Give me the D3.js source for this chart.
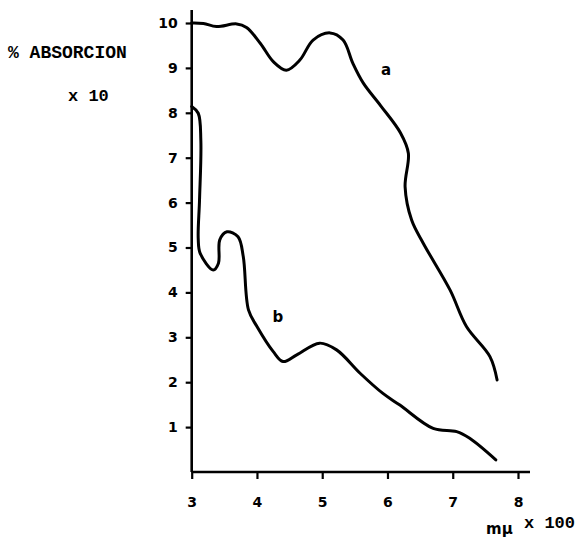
<!DOCTYPE html>
<html><head><meta charset="utf-8">
<script src="https://cdn.jsdelivr.net/npm/d3@7"></script>
<style>body{margin:0;background:#fff}</style>
</head><body>
<svg id="c" width="588" height="542"></svg>
<script>
const xTicks = [3,4,5,6,7,8];
const yTicks = [1,2,3,4,5,6,7,8,9,10];
const curveA = [[3.0,10.0],[3.18,9.99],[3.38,9.92],[3.69,9.98],[3.84,9.9],[4.05,9.55],[4.25,9.14],[4.45,8.95],[4.66,9.18],[4.86,9.62],[5.12,9.78],[5.32,9.62],[5.47,9.1],[5.63,8.66],[5.9,8.15],[6.2,7.55],[6.32,7.1],[6.27,6.35],[6.37,5.61],[6.55,5.09],[6.96,4.05],[7.21,3.24],[7.57,2.57],[7.68,2.05]];
const curveB = [[3.0,8.14],[3.1,7.99],[3.14,7.39],[3.12,6.06],[3.1,5.2],[3.13,4.87],[3.33,4.5],[3.41,4.65],[3.43,5.17],[3.54,5.35],[3.71,5.24],[3.79,4.8],[3.87,3.61],[4.0,3.24],[4.25,2.68],[4.40,2.46],[4.61,2.61],[4.96,2.87],[5.22,2.72],[5.58,2.2],[5.93,1.75],[6.19,1.49],[6.70,0.97],[7.06,0.90],[7.26,0.75],[7.66,0.27]];
const labelsAB = [{t:"a",x:5.98,y:8.85},{t:"b",x:4.32,y:3.35}];

const svg = d3.select("#c");
const x = d3.scaleLinear().domain([3,8]).range([191.7,518]);
const y = d3.scaleLinear().domain([0,10]).range([472,23]);
const font = "'DejaVu Sans', sans-serif";

// axes
const gx = svg.append("g").attr("transform","translate(0,472)")
  .call(d3.axisBottom(x).tickValues(xTicks).tickSize(7).tickPadding(18).tickFormat(d3.format("d")));
gx.select(".domain").remove();
gx.append("line").attr("x1",x(3)).attr("x2",530).attr("stroke","#000").attr("stroke-width",2.6);
const gy = svg.append("g").attr("transform","translate(191.7,0)")
  .call(d3.axisLeft(y).tickValues(yTicks).tickSize(6).tickPadding(8).tickFormat(d3.format("d")));
gy.select(".domain").remove();
gy.append("line").attr("y1",472).attr("y2",10).attr("stroke","#000").attr("stroke-width",2.6);
svg.selectAll(".tick line").attr("stroke","#000").attr("stroke-width",2.2);
svg.selectAll(".tick text").attr("font-family",font).attr("font-weight","bold").attr("font-size",14).attr("fill","#000");

const line = d3.line().x(d=>x(d[0])).y(d=>y(d[1])).curve(d3.curveCatmullRom.alpha(0.5));
svg.append("path").datum(curveA).attr("d",line).attr("fill","none").attr("stroke","#000").attr("stroke-width",3).attr("stroke-linecap","round");
svg.append("path").datum(curveB).attr("d",line).attr("fill","none").attr("stroke","#000").attr("stroke-width",3).attr("stroke-linecap","round");

svg.selectAll(".lab").data(labelsAB).enter().append("text")
  .attr("x",d=>x(d.x)).attr("y",d=>y(d.y)).attr("text-anchor","middle")
  .attr("font-family",font).attr("font-weight","bold").attr("font-size",15).text(d=>d.t);

const mono = "'Liberation Mono', 'DejaVu Sans Mono', monospace";
svg.append("text").attr("x",8).attr("y",58).attr("font-family",mono).attr("font-weight","bold").attr("font-size",18).text("% ABSORCION");
svg.append("text").attr("x",68).attr("y",101).attr("font-family",mono).attr("font-weight","bold").attr("font-size",17).text("x 10");
svg.append("text").attr("x",486).attr("y",534).attr("font-family",font).attr("font-weight","bold").attr("font-size",15).text("mμ");
svg.append("text").attr("x",524).attr("y",528).attr("font-family",mono).attr("font-weight","bold").attr("font-size",17).text("x 100");
</script>
</body></html>
